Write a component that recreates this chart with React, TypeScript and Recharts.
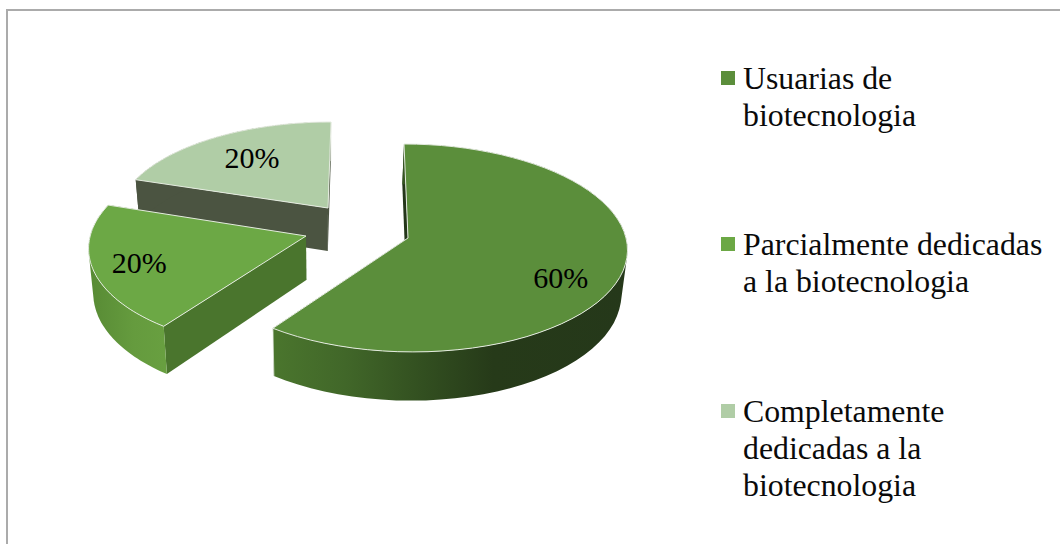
import { PieChart, Pie, Legend } from 'recharts';

const categories = [
  'Usuarias de\nbiotecnologia',
  'Parcialmente dedicadas\na la biotecnologia',
  'Completamente\ndedicadas a la\nbiotecnologia',
];
const shares = [60, 20, 20];
const topColors = ['#5b8e3b', '#6ca845', '#b0cda6'];

// Pie runs counter-clockwise from the top, so the far slice is painted first
const pieData = categories
  .map((name, i) => ({ name, value: shares[i], slice: i }))
  .reverse();

// Fake 3D: look of each exploded slice, by slice number
const looks = [
  { dx: 0, dy: 0, sx: 1, sy: 1, depth: 44, wall: 'url(#wallMain)', side: '#24361a', labelR: 0.73, labelDx: -3, labelDy: 16 },
  { dx: -102, dy: -2, sx: 0.99, sy: 1, depth: 44, wall: 'url(#wallMid)', side: '#4a752d', labelR: 0.81, labelDx: 5, labelDy: 0 },
  { dx: -80, dy: -30, sx: 0.96, sy: 0.915, depth: 43, wall: '#4b5441', side: '#4b5441', labelR: 0.59, labelDx: -8, labelDy: -7 },
];

const SQUASH_Y = 103 / 218;
const PERSPECTIVE = 0.096;
const VANISH_X = 362;
const BOTTOM_X = 320;
const BOTTOM_SCALE = 0.98;
const RAD = Math.PI / 180;

type Pt = { x: number; y: number; depth?: number };

const project = (cx: number, cy: number, radius: number, angle: number, r: number, look: any) => {
  const u = Math.cos(angle * RAD) * r;
  const v = Math.sin(angle * RAD) * r;
  const w = 1 + PERSPECTIVE * v;
  const worldX = cx + look.dx + radius * look.sx * u;
  return {
    x: VANISH_X + (worldX - VANISH_X) / w,
    y: cy + look.dy - (radius * SQUASH_Y * look.sy * v) / w,
    depth: look.depth / w,
  };
};

const lower = (p: Pt) => ({
  x: BOTTOM_X + (p.x - BOTTOM_X) * BOTTOM_SCALE,
  y: p.y + (p.depth ?? 0),
});

const toPath = (pts: Pt[]) =>
  pts.map((p, i) => `${i ? 'L' : 'M'}${p.x.toFixed(1)} ${p.y.toFixed(1)}`).join(' ') + ' Z';

// All rim quads wound the same way, so one path fills without seams where the rim folds
const rimPath = (arc: Pt[]) =>
  arc
    .slice(1)
    .map((p, i) => {
      const quad = [arc[i], p, lower(p), lower(arc[i])];
      const area = quad.reduce((sum, q, k) => {
        const n = quad[(k + 1) % 4];
        return sum + q.x * n.y - n.x * q.y;
      }, 0);
      return toPath(area < 0 ? quad.reverse() : quad);
    })
    .join(' ');

const Slice3D = (props: any) => {
  const { cx, cy, outerRadius, startAngle, endAngle, payload } = props;
  const look = looks[payload.slice];
  const at = (angle: number, r = 1) => project(cx, cy, outerRadius, angle, r, look);

  const arc = [];
  const steps = 60;
  for (let i = 0; i <= steps; i++) {
    arc.push(at(startAngle + ((endAngle - startAngle) * i) / steps));
  }
  const apex = at(0, 0);
  const first = arc[0];
  const last = arc[steps];

  return (
    <g>
      <path d={toPath([apex, first, lower(first), lower(apex)])} fill={look.side} />
      <path d={toPath([apex, last, lower(last), lower(apex)])} fill={look.side} />
      <path d={rimPath(arc)} fill={look.wall} />
      <path d={`M${first.x} ${first.y} L${lower(first).x} ${lower(first).y}`} stroke="#e4ebdf" strokeWidth={0.8} />
      <path d={toPath([apex, ...arc])} fill={topColors[payload.slice]} stroke="#e4ebdf" strokeWidth={1} strokeLinejoin="round" />
    </g>
  );
};

const renderLabel = (props: any) => {
  const { cx, cy, outerRadius, midAngle, payload } = props;
  const look = looks[payload.slice];
  const p = project(cx, cy, outerRadius, midAngle, look.labelR, look);
  return (
    <text
      x={p.x + look.labelDx}
      y={p.y + look.labelDy}
      textAnchor="middle"
      dominantBaseline="central"
      fontFamily="'Liberation Serif'"
      fontSize={30}
      fill="#000"
    >
      {`${payload.value}%`}
    </text>
  );
};

const LegendList = () => (
  <div style={{ fontFamily: "'Liberation Serif'", fontSize: 31.8, lineHeight: '37px', color: '#0a0a0a' }}>
    {categories.map((name, i) => (
      <div key={name} style={{ display: 'flex', marginBottom: 92.5 }}>
        <span
          style={{
            width: 14,
            height: 14,
            marginTop: 11,
            marginRight: 8,
            flex: 'none',
            background: topColors[i],
          }}
        />
        <span style={{ whiteSpace: 'pre-line' }}>{name}</span>
      </div>
    ))}
  </div>
);

export default function App() {
  return (
    <div style={{ position: 'absolute', left: 0, top: 0, width: 1060, height: 544, overflow: 'hidden', background: '#fff' }}>
      <div
        style={{
          position: 'absolute',
          left: 6,
          top: 9,
          width: 1060,
          height: 544,
          borderLeft: '2px solid #ababab',
          borderTop: '2px solid #ababab',
        }}
      />
      <PieChart width={1060} height={544} margin={{ top: 0, right: 0, bottom: 0, left: 0 }} style={{ position: 'absolute', left: 0, top: 0 }}>
        <defs>
          <linearGradient id="wallMain" gradientUnits="userSpaceOnUse" x1={275} y1={0} x2={627} y2={0}>
            <stop offset="0" stopColor="#4a752d" />
            <stop offset="0.2" stopColor="#416729" />
            <stop offset="0.42" stopColor="#324f20" />
            <stop offset="0.62" stopColor="#263a19" />
            <stop offset="1" stopColor="#25381a" />
          </linearGradient>
          <linearGradient id="wallMid" gradientUnits="userSpaceOnUse" x1={88} y1={0} x2={164} y2={0}>
            <stop offset="0" stopColor="#578a34" />
            <stop offset="0.6" stopColor="#659b3e" />
            <stop offset="1" stopColor="#689f40" />
          </linearGradient>
        </defs>
        <Pie
          data={pieData}
          dataKey="value"
          nameKey="name"
          cx={408}
          cy={238}
          outerRadius={218}
          startAngle={90}
          endAngle={450}
          stroke="none"
          shape={Slice3D}
          label={renderLabel}
          labelLine={false}
          isAnimationActive={false}
        />
        <Legend
          layout="vertical"
          align="right"
          verticalAlign="top"
          content={LegendList}
          wrapperStyle={{ left: 721, top: 59.5, right: 'auto', width: 335 }}
        />
      </PieChart>
    </div>
  );
}
